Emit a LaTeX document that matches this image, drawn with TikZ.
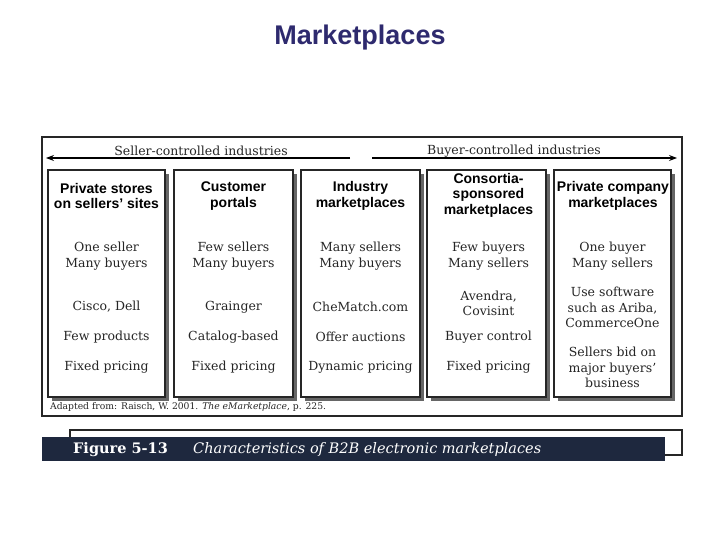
\documentclass[tikz,border=0pt]{standalone}
\usepackage{fontspec}
\usetikzlibrary{arrows.meta}
\setmainfont{DejaVu Serif}
\setsansfont{Liberation Sans}
\begin{document}
\begin{tikzpicture}[x=1pt,y=-1pt,
  col/.style={draw=black!85,line width=1.3pt,fill=white},
  shad/.style={fill=black!60},
  hd/.style={font=\sffamily\bfseries\fontsize{14}{15.5}\selectfont,align=center,inner sep=0},
  bd/.style={font=\fontsize{12.5}{15.5}\selectfont,align=center,inner sep=0,text=black!85}]
\useasboundingbox (0,0) rectangle (720,540);
\node[font=\sffamily\bfseries\fontsize{27}{30}\selectfont,text={rgb,255:red,46;green,42;blue,110}] (title) at (360,38) {Marketplaces};
\draw[line width=1.3pt,draw=black!85] (42,137) rectangle (682,416);
\coordinate (la) at (350,158); \coordinate (lb) at (46,158);
\coordinate (ra) at (372,158); \coordinate (rb) at (677,158);
\draw[line width=1.2pt,-{Stealth[length=8pt,width=6pt]}] (la) -- (lb);
\draw[line width=1.2pt,-{Stealth[length=8pt,width=6pt]}] (ra) -- (rb);
\node[bd] (sl) at (201,151) {Seller-controlled industries};
\node[bd] (bl) at (514,151) {Buyer-controlled industries};
\foreach \a/\b in {48/165,174/293,301/420,427/546,554/671}{
  \fill[shad] (\a+4,174) rectangle (\b+4,401);
  \draw[col] (\a,170) rectangle (\b,397);
}
\node[hd] (h1) at (106.5,196) {Private stores\\on sellers' sites};
\node[hd] (h2) at (233.5,196) {Customer\\portals};
\node[hd] (h3) at (360.5,196) {Industry\\marketplaces};
\node[hd] (h4) at (488.5,195) {Consortia-\\sponsored\\marketplaces};
\node[hd] (h5) at (613,196) {Private company\\marketplaces};
\node[bd] (a1) at (106.5,256) {One seller\\Many buyers};
\node[bd] (a2) at (233.5,256) {Few sellers\\Many buyers};
\node[bd] (a3) at (360.5,256) {Many sellers\\Many buyers};
\node[bd] (a4) at (488.5,256) {Few buyers\\Many sellers};
\node[bd] (a5) at (612.5,256) {One buyer\\Many sellers};
\node[bd] (b1) at (106.5,307) {Cisco, Dell};
\node[bd] (b2) at (233.5,307) {Grainger};
\node[bd] (b3) at (360.5,307) {CheMatch.com};
\node[bd] (b4) at (488.5,303.5) {Avendra,\\Covisint};
\node[bd] (b5) at (612.5,307.5) {Use software\\such as Ariba,\\CommerceOne};
\node[bd] (c1) at (106.5,337) {Few products};
\node[bd] (c2) at (233.5,337) {Catalog-based};
\node[bd] (c3) at (360.5,337) {Offer auctions};
\node[bd] (c4) at (488.5,337) {Buyer control};
\node[bd] (d1) at (106.5,367) {Fixed pricing};
\node[bd] (d2) at (233.5,367) {Fixed pricing};
\node[bd] (d3) at (360.5,367) {Dynamic pricing};
\node[bd] (d4) at (488.5,367) {Fixed pricing};
\node[bd] (d5) at (612.5,367.5) {Sellers bid on\\major buyers'\\business};
\node[font=\fontsize{9.2}{11}\selectfont,anchor=west,inner sep=0,text=black!85] (src) at (50,407) {Adapted from: Raisch, W. 2001. \textit{The eMarketplace}, p. 225.};
\draw[line width=1.3pt,draw=black!85,fill=white] (70,430) rectangle (682,455);
\fill[fill={rgb,255:red,30;green,40;blue,62}] (42,437) rectangle (665,461);
\node[font=\bfseries\fontsize{14.5}{16}\selectfont,text=white,anchor=west,inner sep=0] (fig) at (73,449.5) {Figure 5-13};
\node[font=\itshape\fontsize{14.5}{16}\selectfont,text=white,anchor=west,inner sep=0] (cap) at (193,449.5) {Characteristics of B2B electronic marketplaces};
\end{tikzpicture}
\end{document}
